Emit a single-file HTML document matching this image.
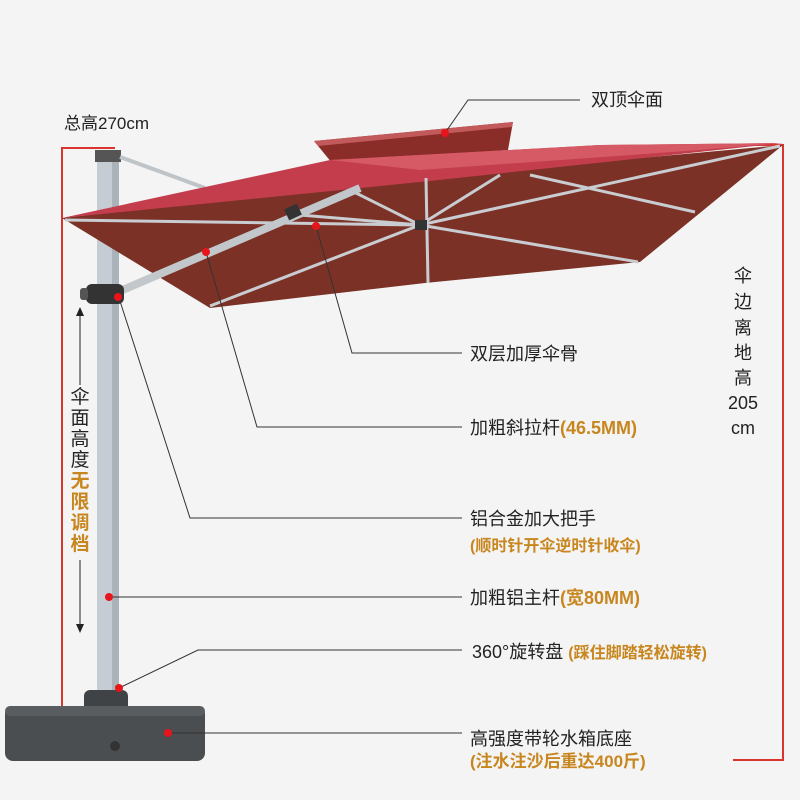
<!DOCTYPE html>
<html><head><meta charset="utf-8"><style>
html,body{margin:0;padding:0;background:#f4f4f4;}
svg{display:block;}
text{font-family:"Liberation Sans","Noto Sans CJK SC",sans-serif;}
</style></head><body>
<svg width="800" height="800" viewBox="0 0 800 800" xmlns="http://www.w3.org/2000/svg">
<rect width="800" height="800" fill="#f4f4f4"/>
<path d="M115 148 H62 V758 H80" fill="none" stroke="#d9342f" stroke-width="2"/>
<path d="M740 145 H783 V760 H733" fill="none" stroke="#d9342f" stroke-width="2"/>
<rect x="97" y="152" width="22" height="545" fill="#c5ccd3"/>
<rect x="112" y="152" width="7" height="545" fill="#aab2ba"/>
<rect x="95" y="150" width="26" height="12" fill="#555"/>
<line x1="120" y1="157" x2="205" y2="188" stroke="#bfc4c8" stroke-width="4"/>
<polygon points="314,141 513,122 508,150 332,163" fill="#8a2d28"/>
<polygon points="314,141 513,122 512,127 318,146" fill="#c25a5c"/>
<polygon points="62,218 420,178 783,145 640,262 425,283 210,308" fill="#7b3126"/>
<polygon points="62,218 330,160 600,145 783,143 420,182" fill="#c33d4c"/>
<polygon points="330,160 600,145 783,143 700,150 420,170" fill="#d65a66"/>
<g stroke="#c9ccd0" stroke-width="3" fill="none">
<line x1="65" y1="220" x2="420" y2="225"/>
<line x1="210" y1="306" x2="420" y2="225"/>
<line x1="638" y1="262" x2="420" y2="225"/>
<line x1="780" y1="146" x2="420" y2="225"/>
<line x1="350" y1="190" x2="420" y2="225"/>
<line x1="500" y1="175" x2="420" y2="225"/>
<line x1="695" y1="212" x2="530" y2="175"/>
<line x1="426" y1="178" x2="428" y2="283"/>
<line x1="300" y1="215" x2="420" y2="225"/>
</g>
<line x1="118" y1="292" x2="360" y2="188" stroke="#c2c7cb" stroke-width="8"/>
<rect x="286" y="206" width="14" height="12" fill="#333" transform="rotate(-25 293 212)"/>
<rect x="415" y="220" width="12" height="10" fill="#333"/>
<rect x="86" y="284" width="38" height="20" rx="6" fill="#333"/>
<rect x="80" y="288" width="8" height="12" rx="3" fill="#555"/>
<rect x="84" y="690" width="44" height="24" rx="6" fill="#3f4346"/>
<rect x="5" y="706" width="200" height="55" rx="8" fill="#4b4e51"/>
<rect x="5" y="706" width="200" height="10" rx="5" fill="#5a5d60"/>
<circle cx="115" cy="746" r="5" fill="#333"/>
<g stroke="#333" stroke-width="1" fill="none">
<polyline points="445,133 468,100 580,100"/>
<polyline points="316,226 352,353 462,353"/>
<polyline points="206,252 257,427 462,427"/>
<polyline points="119,298 190,518 462,518"/>
<polyline points="110,597 462,597"/>
<polyline points="119,688 198,650 462,650"/>
<polyline points="168,733 462,733"/>
</g>
<g fill="#e8141b">
<circle cx="445" cy="133" r="4"/><circle cx="316" cy="226" r="4"/><circle cx="206" cy="252" r="4"/>
<circle cx="118" cy="297" r="4"/><circle cx="109" cy="597" r="4"/><circle cx="119" cy="688" r="4"/><circle cx="168" cy="733" r="4"/>
</g>
<g stroke="#222" stroke-width="1"><line x1="80" y1="312" x2="80" y2="385"/><line x1="80" y1="560" x2="80" y2="628"/></g>
<polygon points="80,307 76,316 84,316" fill="#222"/><polygon points="80,633 76,624 84,624" fill="#222"/>
<g font-size="17" fill="#222">
<text x="64" y="129">总高270cm</text>
<text x="591" y="106" font-size="18">双顶伞面</text>
<text x="470" y="360" font-size="18">双层加厚伞骨</text>
<text x="470" y="434" font-size="18">加粗斜拉杆<tspan fill="#c8861e" font-weight="bold">(46.5MM)</tspan></text>
<text x="470" y="525" font-size="18">铝合金加大把手</text>
<text x="470" y="551" font-size="16" fill="#c8861e" font-weight="bold">(顺时针开伞逆时针收伞)</text>
<text x="470" y="604" font-size="18">加粗铝主杆<tspan fill="#c8861e" font-weight="bold">(宽80MM)</tspan></text>
<text x="472" y="658" font-size="18">360°旋转盘 <tspan fill="#c8861e" font-weight="bold" font-size="16">(踩住脚踏轻松旋转)</tspan></text>
<text x="470" y="745" font-size="18">高强度带轮水箱底座</text>
<text x="470" y="767" font-size="17" fill="#c8861e" font-weight="bold">(注水注沙后重达400斤)</text>
</g>
<g font-size="18" fill="#222" text-anchor="middle">
<text x="743" y="282">伞</text><text x="743" y="308">边</text><text x="743" y="334">离</text><text x="743" y="359">地</text><text x="743" y="384">高</text><text x="743" y="409">205</text><text x="743" y="434">cm</text>
</g>
<g font-size="19" text-anchor="middle" fill="#222">
<text x="80" y="403">伞</text><text x="80" y="424">面</text><text x="80" y="445">高</text><text x="80" y="466">度</text>
<g fill="#c8861e" font-weight="bold"><text x="80" y="487">无</text><text x="80" y="508">限</text><text x="80" y="529">调</text><text x="80" y="550">档</text></g>
</g>
</svg>
</body></html>
